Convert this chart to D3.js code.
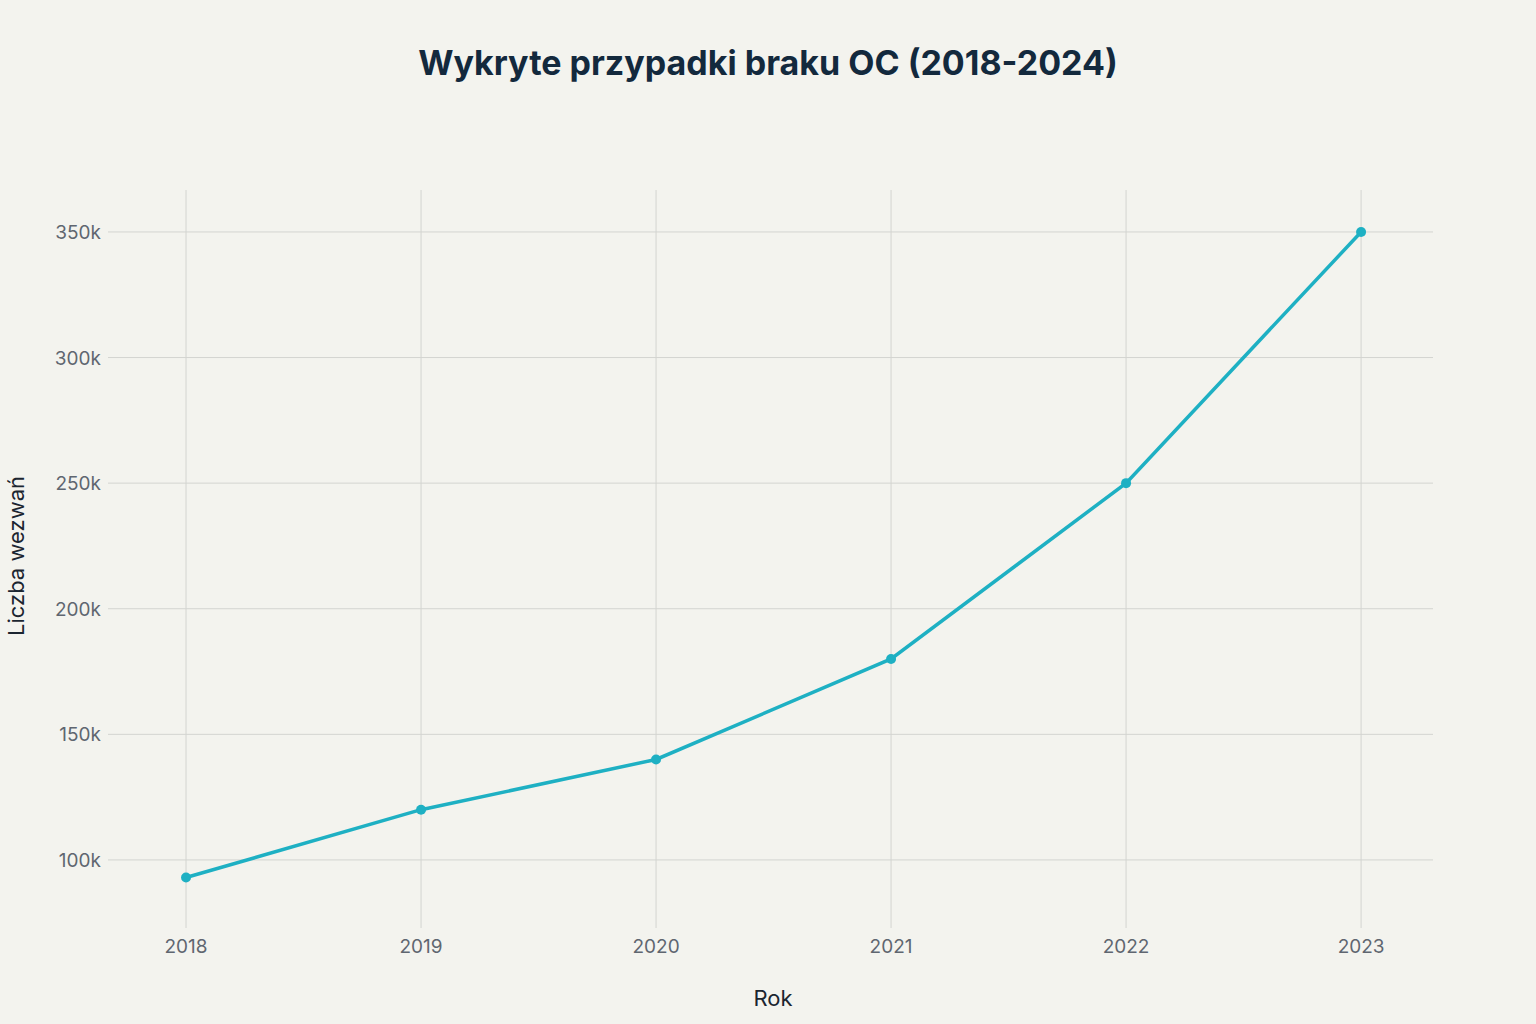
<!DOCTYPE html>
<html>
<head>
<meta charset="utf-8">
<script src="https://cdn.jsdelivr.net/npm/d3@7"></script>
<style>
  body { margin: 0; background: #f3f3ee; }
  svg { display: block; font-family: Inter, "Noto Sans", sans-serif; }
</style>
</head>
<body>
<div id="chart"></div>
<script>
var years = [2018, 2019, 2020, 2021, 2022, 2023];
var cases = [93000, 120000, 140000, 180000, 250000, 350000];
var yTicks = [100000, 150000, 200000, 250000, 300000, 350000];

var width = 1536, height = 1024;
var plotLeft = 108, plotRight = 1433, plotTop = 190, plotBottom = 928;

var svg = d3.select("#chart").append("svg")
    .attr("width", width)
    .attr("height", height)
    .style("background-color", "#f3f3ee");

var x = d3.scaleLinear().domain([2017.668, 2023.306]).range([plotLeft, plotRight]);
var y = d3.scaleLinear().domain([72900, 366700]).range([plotBottom, plotTop]);

// grid
svg.append("g").selectAll("line").data(years).enter().append("line")
    .attr("x1", d => x(d)).attr("x2", d => x(d))
    .attr("y1", plotTop).attr("y2", plotBottom)
    .attr("stroke", "#d3d4d0").attr("stroke-width", 1);
svg.append("g").selectAll("line").data(yTicks).enter().append("line")
    .attr("x1", plotLeft).attr("x2", plotRight)
    .attr("y1", d => y(d)).attr("y2", d => y(d))
    .attr("stroke", "#d3d4d0").attr("stroke-width", 1);

// tick labels
svg.append("g").selectAll("text").data(years).enter().append("text")
    .attr("x", d => x(d)).attr("y", 953)
    .attr("text-anchor", "middle")
    .attr("font-size", "19px").attr("fill", "#5f6670")
    .text(d => d);
svg.append("g").selectAll("text").data(yTicks).enter().append("text")
    .attr("x", 101).attr("y", d => y(d) + 7)
    .attr("text-anchor", "end")
    .attr("font-size", "19px").attr("fill", "#5f6670")
    .text(d => (d / 1000) + "k");

// line
var line = d3.line().x((d, i) => x(years[i])).y(d => y(d));
svg.append("path").datum(cases)
    .attr("d", line)
    .attr("fill", "none")
    .attr("stroke", "#1eb0c3")
    .attr("stroke-width", 3.5);
svg.append("g").selectAll("circle").data(cases).enter().append("circle")
    .attr("cx", (d, i) => x(years[i])).attr("cy", d => y(d))
    .attr("r", 5).attr("fill", "#1eb0c3");

// titles
svg.append("text")
    .attr("x", 768).attr("y", 75)
    .attr("text-anchor", "middle")
    .attr("font-size", "34px").attr("font-weight", "bold")
    .attr("fill", "#13293d")
    .text("Wykryte przypadki braku OC (2018-2024)");
svg.append("text")
    .attr("x", 773).attr("y", 1006)
    .attr("text-anchor", "middle")
    .attr("font-size", "22px").attr("fill", "#1b2530")
    .text("Rok");
svg.append("text")
    .attr("transform", "translate(24,556) rotate(-90)")
    .attr("text-anchor", "middle")
    .attr("font-size", "22px").attr("fill", "#1b2530")
    .text("Liczba wezwań");
</script>
</body>
</html>
